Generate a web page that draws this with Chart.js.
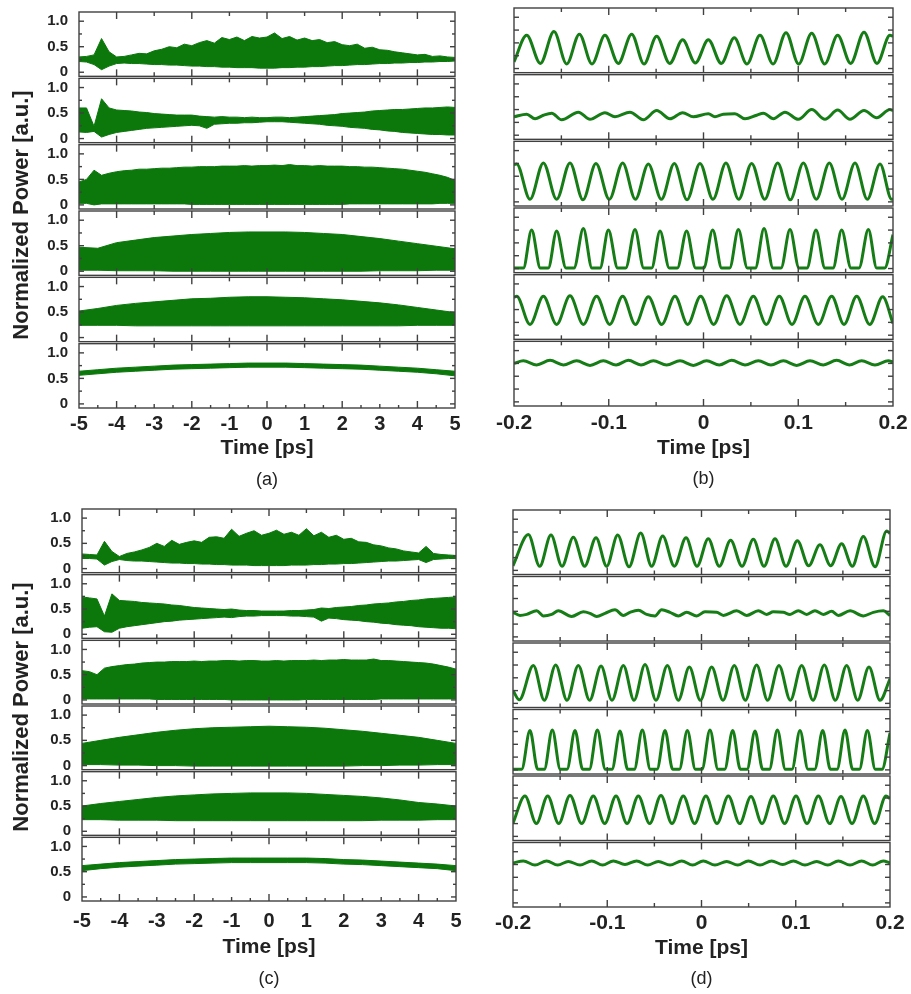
<!DOCTYPE html>
<html lang="en">
<head>
<meta charset="UTF-8">
<title>Normalized power traces (a)-(d)</title>
<style>
  html, body { margin: 0; padding: 0; background: #fff; overflow: hidden; width: 911px; height: 994px; }
  .panel { position: absolute; }
  .ylab {
    position: absolute;
    font: bold 22px "Liberation Sans", Arial, sans-serif;
    color: #222;
    white-space: nowrap;
    transform: translate(-50%, -50%) rotate(-90deg);
  }
</style>
</head>
<body>
<canvas id="chartA" class="panel" width="470" height="500" style="left:0;top:0"></canvas>
<canvas id="chartB" class="panel" width="425" height="500" style="left:486px;top:0"></canvas>
<canvas id="chartC" class="panel" width="470" height="500" style="left:0;top:500px"></canvas>
<canvas id="chartD" class="panel" width="425" height="500" style="left:486px;top:500px"></canvas>
<div class="ylab" style="left:21px;top:215px">Normalized Power [a.u.]</div>
<div class="ylab" style="left:21px;top:707px">Normalized Power [a.u.]</div>

<script src="https://cdn.jsdelivr.net/npm/chart.js"></script>
<script>
// ---- time grids (ps) ----
const timeFine = [-5, -4.8, -4.6, -4.4, -4.2, -4, -3.8, -3.6, -3.4, -3.2, -3, -2.8, -2.6, -2.4, -2.2, -2, -1.8, -1.6, -1.4, -1.2,
  -1, -0.8, -0.6, -0.4, -0.2, 0, 0.2, 0.4, 0.6, 0.8, 1, 1.2, 1.4, 1.6, 1.8, 2, 2.2, 2.4, 2.6, 2.8,
  3, 3.2, 3.4, 3.6, 3.8, 4, 4.2, 4.4, 4.6, 4.8, 5];
const timeCoarse = [-5, -4.5, -4, -3.5, -3, -2.5, -2, -1.5, -1, -0.5, 0, 0.5, 1, 1.5, 2, 2.5, 3, 3.5, 4, 4.5, 5];

// ---- tick labels ----
const xLabelsWide = [-5, -4, -3, -2, -1, 0, 1, 2, 3, 4, 5];
const xTicksWide = [-4, -3, -2, -1, 0, 1, 2, 3, 4];
const xMajorWide = [-4, -2, 0, 2, 4];
const xMinorWide = [-4.5, -3.5, -2.5, -1.5, -0.5, 0.5, 1.5, 2.5, 3.5, 4.5];
const xLabelsZoom = [-0.2, -0.1, 0, 0.1, 0.2];
const xTicksZoom = [-0.15, -0.1, -0.05, 0, 0.05, 0.1, 0.15];
const xMajorZoom = [-0.1, 0, 0.1];
const yLabelVals = [0, 0.5, 1.0];
const yTickVals = [0, 0.25, 0.5, 0.75, 1.0];

// ---- (a) envelopes of the dense traces, top row to bottom row ----
const a1Up = [0.30, 0.31, 0.34, 0.66, 0.40, 0.30, 0.31, 0.34, 0.37, 0.36, 0.42, 0.45, 0.50, 0.48, 0.55, 0.52, 0.58, 0.62, 0.57, 0.68,
  0.64, 0.69, 0.62, 0.70, 0.67, 0.69, 0.77, 0.66, 0.70, 0.63, 0.67, 0.62, 0.64, 0.58, 0.60, 0.54, 0.52, 0.55, 0.47, 0.49,
  0.44, 0.43, 0.40, 0.38, 0.36, 0.34, 0.35, 0.31, 0.32, 0.30, 0.29];
const a1Lo = [0.21, 0.20, 0.15, 0.05, 0.12, 0.17, 0.18, 0.17, 0.17, 0.16, 0.15, 0.15, 0.14, 0.14, 0.13, 0.12, 0.12, 0.11, 0.11, 0.10,
  0.10, 0.09, 0.09, 0.09, 0.08, 0.08, 0.08, 0.09, 0.09, 0.10, 0.10, 0.11, 0.11, 0.12, 0.13, 0.13, 0.14, 0.15, 0.15, 0.16,
  0.17, 0.17, 0.18, 0.18, 0.19, 0.19, 0.20, 0.20, 0.21, 0.21, 0.22];
const a2Up = [0.60, 0.60, 0.24, 0.78, 0.60, 0.56, 0.55, 0.54, 0.52, 0.51, 0.49, 0.48, 0.47, 0.46, 0.46, 0.46, 0.44, 0.43, 0.42, 0.43,
  0.42, 0.42, 0.41, 0.42, 0.41, 0.41, 0.42, 0.42, 0.41, 0.42, 0.43, 0.44, 0.45, 0.46, 0.47, 0.49, 0.50, 0.51, 0.52, 0.54,
  0.55, 0.56, 0.57, 0.57, 0.58, 0.59, 0.60, 0.60, 0.61, 0.62, 0.61];
const a2Lo = [0.13, 0.12, 0.14, 0.03, 0.08, 0.12, 0.14, 0.16, 0.18, 0.20, 0.21, 0.22, 0.23, 0.24, 0.25, 0.26, 0.25, 0.20, 0.28, 0.29,
  0.30, 0.30, 0.31, 0.31, 0.32, 0.33, 0.33, 0.33, 0.32, 0.31, 0.30, 0.29, 0.28, 0.26, 0.25, 0.24, 0.22, 0.21, 0.20, 0.18,
  0.17, 0.15, 0.14, 0.12, 0.11, 0.10, 0.09, 0.08, 0.08, 0.07, 0.07];
const a3Up = [0.45, 0.50, 0.68, 0.58, 0.62, 0.65, 0.67, 0.68, 0.70, 0.70, 0.71, 0.72, 0.72, 0.73, 0.74, 0.74, 0.75, 0.75, 0.75, 0.76,
  0.76, 0.76, 0.77, 0.76, 0.77, 0.77, 0.78, 0.77, 0.79, 0.77, 0.77, 0.76, 0.77, 0.76, 0.76, 0.76, 0.75, 0.75, 0.74, 0.74,
  0.73, 0.72, 0.71, 0.70, 0.68, 0.66, 0.64, 0.61, 0.58, 0.54, 0.48];
const a3Lo = [0.03, 0.03, 0.00, 0.02, 0.02, 0.02, 0.02, 0.02, 0.02, 0.02, 0.02, 0.02, 0.02, 0.02, 0.02, 0.01, 0.01, 0.01, 0.01, 0.01,
  0.01, 0.01, 0.01, 0.01, 0.01, 0.01, 0.01, 0.01, 0.01, 0.01, 0.01, 0.01, 0.01, 0.01, 0.01, 0.01, 0.02, 0.02, 0.02, 0.02,
  0.02, 0.02, 0.02, 0.02, 0.02, 0.02, 0.02, 0.02, 0.03, 0.03, 0.03];
const a4Up = [0.47, 0.45, 0.56, 0.61, 0.66, 0.69, 0.72, 0.74, 0.76, 0.77, 0.77, 0.77, 0.76, 0.74, 0.72, 0.68, 0.64, 0.59, 0.54, 0.49, 0.44];
const a4Lo = [0.02, 0.02, 0.01, 0.01, 0.01, 0.00, 0.00, 0.00, 0.00, 0.00, 0.00, 0.00, 0.00, 0.00, 0.00, 0.00, 0.01, 0.01, 0.01, 0.02, 0.02];
const a5Up = [0.52, 0.57, 0.63, 0.67, 0.70, 0.73, 0.76, 0.77, 0.79, 0.80, 0.80, 0.79, 0.78, 0.76, 0.74, 0.71, 0.68, 0.64, 0.59, 0.54, 0.49];
const a5Lo = [0.24, 0.24, 0.24, 0.23, 0.23, 0.23, 0.23, 0.23, 0.23, 0.23, 0.23, 0.23, 0.23, 0.23, 0.23, 0.23, 0.23, 0.23, 0.24, 0.24, 0.24];
const a6Up = [0.64, 0.67, 0.70, 0.72, 0.74, 0.76, 0.77, 0.78, 0.79, 0.80, 0.80, 0.80, 0.79, 0.78, 0.77, 0.76, 0.74, 0.72, 0.70, 0.67, 0.64];
const a6Lo = [0.56, 0.59, 0.62, 0.64, 0.66, 0.68, 0.69, 0.70, 0.71, 0.72, 0.72, 0.72, 0.71, 0.70, 0.69, 0.68, 0.66, 0.64, 0.62, 0.59, 0.55];

// ---- (c) envelopes ----
const c1Up = [0.29, 0.28, 0.27, 0.54, 0.34, 0.24, 0.30, 0.33, 0.37, 0.42, 0.50, 0.44, 0.56, 0.48, 0.52, 0.55, 0.52, 0.62, 0.63, 0.60,
  0.78, 0.64, 0.70, 0.75, 0.66, 0.70, 0.76, 0.68, 0.72, 0.66, 0.79, 0.65, 0.72, 0.62, 0.66, 0.58, 0.60, 0.53, 0.52, 0.47,
  0.45, 0.41, 0.39, 0.35, 0.33, 0.31, 0.44, 0.30, 0.28, 0.27, 0.26];
const c1Lo = [0.20, 0.20, 0.19, 0.07, 0.14, 0.18, 0.16, 0.15, 0.15, 0.14, 0.13, 0.12, 0.11, 0.11, 0.10, 0.10, 0.09, 0.09, 0.08, 0.08,
  0.07, 0.07, 0.07, 0.06, 0.06, 0.06, 0.06, 0.06, 0.07, 0.07, 0.07, 0.08, 0.08, 0.09, 0.09, 0.10, 0.10, 0.11, 0.12, 0.13,
  0.14, 0.15, 0.15, 0.16, 0.17, 0.18, 0.12, 0.18, 0.19, 0.20, 0.20];
const c2Up = [0.74, 0.72, 0.70, 0.36, 0.80, 0.67, 0.66, 0.65, 0.63, 0.62, 0.61, 0.60, 0.58, 0.57, 0.55, 0.53, 0.52, 0.51, 0.50, 0.49,
  0.50, 0.48, 0.47, 0.47, 0.46, 0.46, 0.46, 0.46, 0.47, 0.47, 0.48, 0.49, 0.52, 0.51, 0.53, 0.54, 0.55, 0.57, 0.58, 0.60,
  0.61, 0.62, 0.64, 0.65, 0.67, 0.68, 0.70, 0.71, 0.72, 0.73, 0.74];
const c2Lo = [0.12, 0.14, 0.15, 0.05, 0.04, 0.12, 0.15, 0.17, 0.19, 0.21, 0.23, 0.25, 0.26, 0.28, 0.29, 0.30, 0.31, 0.32, 0.33, 0.34,
  0.33, 0.35, 0.36, 0.36, 0.37, 0.37, 0.37, 0.37, 0.36, 0.36, 0.35, 0.34, 0.26, 0.32, 0.31, 0.29, 0.28, 0.27, 0.25, 0.24,
  0.22, 0.21, 0.19, 0.18, 0.17, 0.15, 0.14, 0.13, 0.12, 0.12, 0.11];
const c3Up = [0.58, 0.56, 0.50, 0.63, 0.66, 0.68, 0.70, 0.71, 0.73, 0.74, 0.75, 0.75, 0.76, 0.76, 0.76, 0.77, 0.76, 0.77, 0.77, 0.78,
  0.78, 0.77, 0.78, 0.78, 0.77, 0.77, 0.78, 0.77, 0.78, 0.78, 0.78, 0.79, 0.78, 0.79, 0.79, 0.80, 0.79, 0.79, 0.79, 0.81,
  0.78, 0.78, 0.77, 0.76, 0.75, 0.74, 0.73, 0.71, 0.68, 0.65, 0.61];
const c3Lo = [0.02, 0.02, 0.02, 0.02, 0.02, 0.02, 0.02, 0.02, 0.02, 0.02, 0.01, 0.01, 0.01, 0.01, 0.01, 0.01, 0.01, 0.01, 0.01, 0.01,
  0.00, 0.00, 0.00, 0.00, 0.00, 0.00, 0.00, 0.00, 0.00, 0.00, 0.01, 0.01, 0.01, 0.01, 0.01, 0.01, 0.01, 0.01, 0.01, 0.01,
  0.02, 0.02, 0.02, 0.02, 0.02, 0.02, 0.02, 0.02, 0.02, 0.02, 0.02];
const c4Up = [0.44, 0.50, 0.56, 0.61, 0.66, 0.70, 0.73, 0.75, 0.76, 0.77, 0.78, 0.77, 0.76, 0.74, 0.71, 0.68, 0.64, 0.60, 0.56, 0.50, 0.44];
const c4Lo = [0.02, 0.02, 0.01, 0.01, 0.00, 0.00, -0.01, -0.01, -0.01, -0.01, -0.01, -0.01, -0.01, -0.01, -0.01, 0.00, 0.00, 0.01, 0.01, 0.02, 0.02];
const c5Up = [0.50, 0.55, 0.59, 0.63, 0.67, 0.70, 0.72, 0.74, 0.75, 0.76, 0.76, 0.76, 0.75, 0.73, 0.71, 0.69, 0.66, 0.62, 0.57, 0.54, 0.50];
const c5Lo = [0.23, 0.23, 0.22, 0.22, 0.22, 0.21, 0.21, 0.21, 0.21, 0.21, 0.21, 0.21, 0.21, 0.21, 0.21, 0.21, 0.22, 0.22, 0.22, 0.23, 0.23];
const c6Up = [0.62, 0.65, 0.68, 0.70, 0.72, 0.74, 0.75, 0.76, 0.77, 0.77, 0.77, 0.77, 0.77, 0.76, 0.74, 0.73, 0.71, 0.69, 0.67, 0.65, 0.62];
const c6Lo = [0.52, 0.56, 0.59, 0.61, 0.63, 0.65, 0.66, 0.67, 0.68, 0.68, 0.68, 0.68, 0.68, 0.67, 0.65, 0.64, 0.62, 0.60, 0.58, 0.56, 0.52];

// ---- (b) zoomed traces: turning points (ps, a.u.) ----
const b1T = [-0.2, -0.1866, -0.1722, -0.1578, -0.1444, -0.131, -0.1177, -0.104, -0.0899, -0.0758, -0.0628, -0.0494, -0.0357, -0.022, -0.0086,
  0.0051, 0.0188, 0.0325, 0.0459, 0.0596, 0.0734, 0.0871, 0.1004, 0.1142, 0.1279, 0.1416, 0.1553, 0.1694, 0.1831, 0.1968, 0.2];
const b1V = [0.13, 0.65, 0.10, 0.72, 0.09, 0.67, 0.09, 0.65, 0.10, 0.67, 0.09, 0.63, 0.10, 0.56, 0.11,
  0.56, 0.10, 0.60, 0.09, 0.65, 0.09, 0.70, 0.09, 0.69, 0.09, 0.65, 0.10, 0.71, 0.10, 0.65, 0.63];
const b2T = [-0.2, -0.1866, -0.1778, -0.169, -0.1602, -0.1497, -0.1321, -0.1198, -0.104, -0.0934, -0.0776, -0.0635, -0.0494, -0.0354, -0.022,
  -0.0107, 0.0051, 0.0121, 0.0209, 0.0332, 0.0438, 0.0561, 0.0632, 0.0737, 0.086, 0.1001, 0.1142, 0.1282, 0.1416, 0.1546,
  0.1694, 0.1828, 0.1968, 0.2];
const b2V = [0.36, 0.41, 0.32, 0.39, 0.43, 0.30, 0.45, 0.31, 0.44, 0.36, 0.45, 0.30, 0.48, 0.32, 0.44,
  0.36, 0.42, 0.36, 0.41, 0.42, 0.32, 0.39, 0.43, 0.32, 0.45, 0.31, 0.50, 0.31, 0.49, 0.31,
  0.48, 0.34, 0.50, 0.48];
const b3T = [-0.2, -0.1972, -0.1831, -0.169, -0.155, -0.1409, -0.1272, -0.1135, -0.0994, -0.0853, -0.0719, -0.0582, -0.0445, -0.0308, -0.0174,
  -0.0037, 0.01, 0.0237, 0.0371, 0.0508, 0.0646, 0.0783, 0.0916, 0.1054, 0.1191, 0.1328, 0.1462, 0.1599, 0.1729, 0.1863, 0.1986, 0.2];
const b3V = [0.72, 0.74, 0.05, 0.76, 0.05, 0.76, 0.04, 0.75, 0.05, 0.76, 0.05, 0.74, 0.05, 0.75, 0.04,
  0.75, 0.05, 0.76, 0.05, 0.75, 0.05, 0.76, 0.04, 0.76, 0.05, 0.76, 0.05, 0.76, 0.05, 0.74, 0.05, 0.06];
const b4T = [-0.2, -0.1901, -0.1814, -0.1722, -0.1638, -0.155, -0.1451, -0.1367, -0.1268, -0.1177, -0.1092, -0.1004, -0.0906, -0.0821, -0.0723,
  -0.0631, -0.0547, -0.0459, -0.0361, -0.0276, -0.0178, -0.0083, 0.0002, 0.0097, 0.0192, 0.0276, 0.0368, 0.0463, 0.0547, 0.0639,
  0.0734, 0.0818, 0.0913, 0.1008, 0.1092, 0.1187, 0.1282, 0.1367, 0.1458, 0.1557, 0.1641, 0.174, 0.1828, 0.1912, 0.2];
const b4V = [0.01, 0.01, 0.75, 0.01, 0.01, 0.73, 0.01, 0.01, 0.78, 0.01, 0.01, 0.75, 0.01, 0.01, 0.76,
  0.01, 0.01, 0.73, 0.01, 0.01, 0.73, 0.01, 0.01, 0.75, 0.01, 0.01, 0.76, 0.01, 0.01, 0.78,
  0.01, 0.01, 0.76, 0.01, 0.01, 0.75, 0.01, 0.01, 0.75, 0.01, 0.01, 0.76, 0.01, 0.01, 0.66];
const b5T = [-0.2, -0.1972, -0.1831, -0.169, -0.155, -0.1409, -0.1268, -0.1128, -0.099, -0.0853, -0.0719, -0.0582, -0.0441, -0.0301, -0.0167,
  -0.003, 0.0107, 0.0245, 0.0385, 0.0526, 0.0663, 0.08, 0.0934, 0.1071, 0.1212, 0.1353, 0.1483, 0.1617, 0.1754, 0.1891, 0.2];
const b5V = [0.74, 0.76, 0.21, 0.76, 0.21, 0.77, 0.21, 0.76, 0.21, 0.76, 0.21, 0.75, 0.21, 0.76, 0.21,
  0.76, 0.21, 0.77, 0.21, 0.76, 0.21, 0.76, 0.21, 0.76, 0.21, 0.76, 0.21, 0.76, 0.21, 0.75, 0.23];
const b6T = [-0.2, -0.1901, -0.1761, -0.162, -0.1479, -0.1339, -0.1198, -0.1057, -0.0923, -0.0793, -0.066, -0.0529, -0.0389, -0.0248, -0.0107,
  0.0033, 0.0167, 0.0297, 0.0438, 0.0579, 0.0712, 0.0843, 0.0983, 0.1124, 0.1265, 0.1405, 0.1539, 0.1669, 0.181, 0.1951, 0.2];
const b6V = [0.75, 0.80, 0.72, 0.81, 0.72, 0.80, 0.71, 0.80, 0.72, 0.81, 0.72, 0.80, 0.72, 0.80, 0.71,
  0.80, 0.72, 0.81, 0.72, 0.80, 0.72, 0.80, 0.71, 0.80, 0.72, 0.81, 0.72, 0.80, 0.72, 0.80, 0.78];

// ---- (d) zoomed traces ----
const d1T = [-0.2, -0.1837, -0.1717, -0.1597, -0.148, -0.136, -0.124, -0.1119, -0.1006, -0.0889, -0.0769, -0.0645, -0.0529, -0.0412, -0.0288,
  -0.0164, -0.0048, 0.0072, 0.0189, 0.0309, 0.043, 0.055, 0.0663, 0.078, 0.0897, 0.1017, 0.1137, 0.1257, 0.137, 0.1487,
  0.16, 0.1717, 0.1841, 0.1965, 0.2];
const d1V = [0.09, 0.70, 0.08, 0.69, 0.08, 0.65, 0.08, 0.64, 0.08, 0.69, 0.07, 0.73, 0.08, 0.67, 0.08,
  0.64, 0.08, 0.62, 0.08, 0.59, 0.08, 0.61, 0.08, 0.62, 0.08, 0.58, 0.09, 0.50, 0.09, 0.52,
  0.08, 0.66, 0.07, 0.77, 0.72];
const d2T = [-0.2, -0.1926, -0.1855, -0.1749, -0.1678, -0.159, -0.1519, -0.1378, -0.1254, -0.1183, -0.1112, -0.1024, -0.0918, -0.0829, -0.0759,
  -0.067, -0.0582, -0.0493, -0.0423, -0.0334, -0.0246, -0.0157, -0.0051, 0.0037, 0.0161, 0.0232, 0.0373, 0.0479, 0.0603, 0.0691,
  0.0762, 0.0868, 0.0939, 0.1027, 0.1116, 0.1204, 0.1293, 0.1381, 0.1452, 0.1576, 0.1717, 0.1823, 0.1929, 0.2];
const d2V = [0.48, 0.42, 0.44, 0.51, 0.41, 0.44, 0.51, 0.40, 0.49, 0.46, 0.40, 0.46, 0.53, 0.42, 0.48,
  0.52, 0.44, 0.41, 0.53, 0.48, 0.41, 0.48, 0.41, 0.49, 0.48, 0.42, 0.51, 0.42, 0.51, 0.44,
  0.49, 0.48, 0.44, 0.51, 0.44, 0.51, 0.44, 0.50, 0.42, 0.51, 0.41, 0.48, 0.51, 0.42];
const d3T = [-0.2, -0.1933, -0.1784, -0.1668, -0.1547, -0.1427, -0.1307, -0.1187, -0.1066, -0.095, -0.0829, -0.0716, -0.0599, -0.0483, -0.0362,
  -0.0246, -0.0129, -0.0012, 0.0108, 0.0228, 0.0348, 0.0465, 0.0585, 0.0702, 0.0822, 0.0943, 0.1063, 0.1183, 0.1303, 0.142,
  0.154, 0.1657, 0.1777, 0.1894, 0.2];
const d3V = [0.25, 0.07, 0.74, 0.06, 0.75, 0.06, 0.74, 0.06, 0.73, 0.06, 0.74, 0.06, 0.76, 0.06, 0.74,
  0.06, 0.71, 0.06, 0.71, 0.06, 0.74, 0.06, 0.75, 0.06, 0.74, 0.06, 0.74, 0.06, 0.75, 0.06,
  0.74, 0.06, 0.71, 0.06, 0.48];
const d4T = [-0.2, -0.1908, -0.182, -0.1738, -0.1668, -0.1583, -0.1498, -0.1427, -0.1342, -0.1261, -0.119, -0.1105, -0.102, -0.095, -0.0865,
  -0.0783, -0.0713, -0.0628, -0.0543, -0.0472, -0.0387, -0.0306, -0.0235, -0.015, -0.0065, 0.0005, 0.009, 0.0175, 0.0246, 0.0331,
  0.0412, 0.0483, 0.0568, 0.0649, 0.072, 0.0805, 0.089, 0.096, 0.1045, 0.113, 0.1201, 0.1286, 0.1367, 0.1438, 0.1523,
  0.1604, 0.1675, 0.176, 0.1844, 0.1915, 0.2];
const d4V = [0.01, 0.01, 0.77, 0.01, 0.01, 0.78, 0.01, 0.01, 0.77, 0.01, 0.01, 0.78, 0.01, 0.01, 0.76,
  0.01, 0.01, 0.78, 0.01, 0.01, 0.77, 0.01, 0.01, 0.77, 0.01, 0.01, 0.78, 0.01, 0.01, 0.77,
  0.01, 0.01, 0.76, 0.01, 0.01, 0.78, 0.01, 0.01, 0.77, 0.01, 0.01, 0.77, 0.01, 0.01, 0.78,
  0.01, 0.01, 0.77, 0.01, 0.01, 0.72];
const d5T = [-0.2, -0.1873, -0.1752, -0.1632, -0.1515, -0.1395, -0.1271, -0.1148, -0.1027, -0.0907, -0.079, -0.067, -0.055, -0.043, -0.0313,
  -0.0193, -0.0073, 0.0047, 0.0164, 0.0285, 0.0405, 0.0525, 0.0642, 0.0762, 0.0882, 0.1003, 0.1119, 0.124, 0.136, 0.148,
  0.1597, 0.1717, 0.1837, 0.1958, 0.2];
const d5V = [0.26, 0.79, 0.25, 0.79, 0.25, 0.80, 0.25, 0.79, 0.25, 0.79, 0.25, 0.79, 0.25, 0.80, 0.25,
  0.79, 0.25, 0.79, 0.25, 0.79, 0.25, 0.78, 0.25, 0.79, 0.25, 0.79, 0.25, 0.79, 0.25, 0.78,
  0.25, 0.79, 0.25, 0.79, 0.74];
const d6T = [-0.2, -0.189, -0.1767, -0.1643, -0.1526, -0.1413, -0.1289, -0.1165, -0.1049, -0.0935, -0.0812, -0.0688, -0.0571, -0.0458, -0.0334,
  -0.021, -0.0094, 0.0019, 0.0143, 0.0267, 0.0384, 0.0497, 0.0621, 0.0744, 0.0861, 0.0974, 0.1098, 0.1222, 0.1339, 0.1452,
  0.1576, 0.1699, 0.1816, 0.1929, 0.2];
const d6V = [0.78, 0.82, 0.74, 0.82, 0.74, 0.81, 0.74, 0.82, 0.74, 0.82, 0.75, 0.82, 0.74, 0.81, 0.74,
  0.82, 0.74, 0.82, 0.74, 0.81, 0.74, 0.82, 0.74, 0.82, 0.75, 0.82, 0.74, 0.81, 0.74, 0.82,
  0.74, 0.82, 0.74, 0.82, 0.78];

// ---- look ----
const FONT = '"Liberation Sans", Arial, sans-serif';
const FILL = '#0c780c';
const LINE = '#167d16';
const FRAME = '#404040';
const TEXT = '#222222';
const Y_MIN = -0.1, Y_MAX = 1.2;
const yIds = ['y1', 'y2', 'y3', 'y4', 'y5', 'y6'];   // top row first

// frames around each row plus inward ticks on all four sides
const framePlugin = {
  id: 'frames',
  afterDatasetsDraw(chart, args, o) {
    const ctx = chart.ctx, x = chart.scales.x;
    const seg = (x0, y0, x1, y1) => { ctx.beginPath(); ctx.moveTo(x0, y0); ctx.lineTo(x1, y1); ctx.stroke(); };
    ctx.save();
    ctx.strokeStyle = FRAME;
    ctx.lineWidth = 1.4;
    yIds.forEach((id, k) => {
      const y = chart.scales[id];
      const top = y.top + 1, bot = y.bottom - 1;
      ctx.strokeRect(x.left, top, x.right - x.left, bot - top);
      yTickVals.forEach(v => {
        const py = y.getPixelForValue(v);
        const len = o.yMajor.includes(v) ? 5 : 3;
        seg(x.left, py, x.left + len, py);
        seg(x.right - len, py, x.right, py);
      });
      o.xTicks.forEach(v => {
        const px = x.getPixelForValue(v);
        const len = o.xMajor.includes(v) ? 7 : 4;
        seg(px, top, px, top + len);
        seg(px, bot - len, px, bot);
      });
      if (k === yIds.length - 1) {
        o.xMinor.forEach(v => {
          const px = x.getPixelForValue(v);
          seg(px, bot - 3, px, bot);
        });
      }
    });
    ctx.restore();
  }
};

function band(times, lo, up, axis) {
  return [
    { data: times.map((t, i) => ({ x: t, y: lo[i] })), yAxisID: axis, borderColor: FILL, borderWidth: 1,
      pointRadius: 0, fill: false, tension: 0 },
    { data: times.map((t, i) => ({ x: t, y: up[i] })), yAxisID: axis, borderColor: FILL, borderWidth: 1,
      backgroundColor: FILL, pointRadius: 0, fill: '-1', tension: 0 }
  ];
}

function wave(times, vals, axis) {
  return { data: times.map((t, i) => ({ x: t, y: vals[i] })), yAxisID: axis, borderColor: LINE, borderWidth: 3,
    pointRadius: 0, fill: false, cubicInterpolationMode: 'monotone' };
}

function makePanel(id, p) {
  const scales = {
    x: {
      type: 'linear', min: p.xMin, max: p.xMax,
      afterBuildTicks: s => { s.ticks = p.xLabels.map(v => ({ value: v })); },
      afterFit: s => { s.height = p.xAxisH; s.paddingLeft = 0; s.paddingRight = 0; },
      grid: { display: false, drawTicks: false },
      border: { display: false },
      ticks: { color: TEXT, padding: p.xPad, maxRotation: 0, autoSkip: false,
        font: { family: FONT, size: p.xFont, weight: 'bold' },
        callback: v => (v === 0 ? '0' : String(v)) },
      title: { display: true, text: 'Time [ps]', color: TEXT, padding: { top: 0, bottom: p.titlePad },
        font: { family: FONT, size: 21, weight: 'bold' } }
    }
  };
  // stacked left axes are laid out last-defined on top, so add them bottom row first
  yIds.slice().reverse().forEach(yid => {
    scales[yid] = {
      type: 'linear', position: 'left', stack: 'rows', stackWeight: 1,
      min: Y_MIN, max: Y_MAX,
      afterBuildTicks: s => { s.ticks = yLabelVals.map(v => ({ value: v })); },
      afterFit: s => { s.width = p.left; s.paddingTop = 0; s.paddingBottom = 0; },
      grid: { display: false, drawTicks: false },
      border: { display: false },
      ticks: { display: p.showY, autoSkip: false, color: TEXT, padding: 11,
        font: { family: FONT, size: 15, weight: 'bold' },
        callback: v => (v === 0 ? '0' : v.toFixed(1)) }
    };
  });

  return new Chart(document.getElementById(id), {
    type: 'line',
    data: { datasets: p.datasets },
    options: {
      responsive: false,
      animation: false,
      events: [],
      devicePixelRatio: 1,
      layout: { padding: { left: 0, right: p.right, top: p.top, bottom: 0 } },
      scales: scales,
      plugins: {
        legend: { display: false },
        tooltip: { enabled: false },
        title: { display: true, text: p.caption, position: 'bottom', fullSize: false, align: 'center', color: TEXT,
          font: { family: FONT, size: 18, weight: 'normal' }, padding: { top: 0, bottom: p.capPad } },
        frames: { xTicks: p.xTicks, xMajor: p.xMajor, xMinor: p.xMinor, yMajor: p.yMajor }
      }
    },
    plugins: [framePlugin]
  });
}

makePanel('chartA', {
  caption: '(a)', left: 79, right: 15, top: 11, xAxisH: 60.2, titlePad: 8.7, capPad: 9.2, xPad: 3, xFont: 20,
  showY: true, xMin: -5, xMax: 5, xLabels: xLabelsWide, xTicks: xTicksWide, xMajor: xMajorWide, xMinor: xMinorWide,
  yMajor: yLabelVals,
  datasets: [].concat(
    band(timeFine, a1Lo, a1Up, 'y1'), band(timeFine, a2Lo, a2Up, 'y2'), band(timeFine, a3Lo, a3Up, 'y3'),
    band(timeCoarse, a4Lo, a4Up, 'y4'), band(timeCoarse, a5Lo, a5Up, 'y5'), band(timeCoarse, a6Lo, a6Up, 'y6'))
});

makePanel('chartB', {
  caption: '(b)', left: 28, right: 18, top: 7, xAxisH: 61.2, titlePad: 7.7, capPad: 10.2, xPad: 4, xFont: 21,
  showY: false, xMin: -0.2, xMax: 0.2, xLabels: xLabelsZoom, xTicks: xTicksZoom, xMajor: xMajorZoom, xMinor: [],
  yMajor: yTickVals,
  datasets: [wave(b1T, b1V, 'y1'), wave(b2T, b2V, 'y2'), wave(b3T, b3V, 'y3'),
    wave(b4T, b4V, 'y4'), wave(b5T, b5V, 'y5'), wave(b6T, b6V, 'y6')]
});

makePanel('chartC', {
  caption: '(c)', left: 82, right: 14, top: 8, xAxisH: 66.2, titlePad: 8.7, capPad: 10.2, xPad: 7, xFont: 20,
  showY: true, xMin: -5, xMax: 5, xLabels: xLabelsWide, xTicks: xTicksWide, xMajor: xMajorWide, xMinor: xMinorWide,
  yMajor: yLabelVals,
  datasets: [].concat(
    band(timeFine, c1Lo, c1Up, 'y1'), band(timeFine, c2Lo, c2Up, 'y2'), band(timeFine, c3Lo, c3Up, 'y3'),
    band(timeCoarse, c4Lo, c4Up, 'y4'), band(timeCoarse, c5Lo, c5Up, 'y5'), band(timeCoarse, c6Lo, c6Up, 'y6'))
});

makePanel('chartD', {
  caption: '(d)', left: 27, right: 21, top: 9, xAxisH: 60.2, titlePad: 7.7, capPad: 10.2, xPad: 3, xFont: 21,
  showY: false, xMin: -0.2, xMax: 0.2, xLabels: xLabelsZoom, xTicks: xTicksZoom, xMajor: xMajorZoom, xMinor: [],
  yMajor: yTickVals,
  datasets: [wave(d1T, d1V, 'y1'), wave(d2T, d2V, 'y2'), wave(d3T, d3V, 'y3'),
    wave(d4T, d4V, 'y4'), wave(d5T, d5V, 'y5'), wave(d6T, d6V, 'y6')]
});
</script>
</body>
</html>
